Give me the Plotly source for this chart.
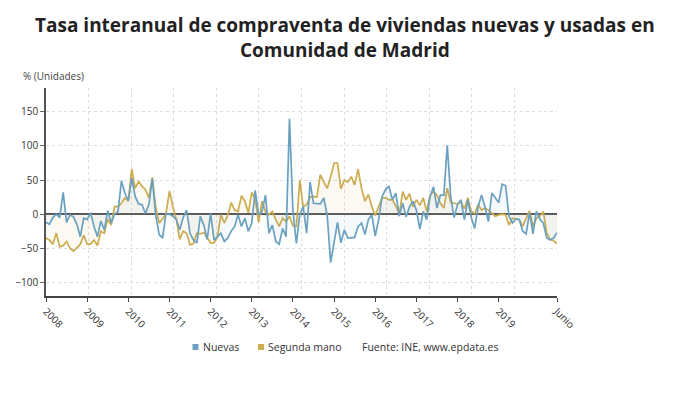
import plotly.graph_objects as go

months = list(range(150))  # Jan 2008 .. Jun 2020 (monthly index)

nuevas = [-12, -15, -5, 0, -5, 32, -12, -1, -4, -15,
          -33, -6, -8, 2, -18, -33, -10, -23, 5, -13,
          0, 4, 49, 31, 20, 53, 26, 15, 14, 1,
          14, 52, -2, -30, -35, 1, 0, -3, -8, -23,
          -5, 6, -28, -38, -42, -3, -16, -37, 1, -38,
          -33, -28, -40, -35, -25, -18, -1, -18, -6, -25,
          -13, 35, -1, 4, 28, -28, -16, -40, -44, -21,
          -33, 140, 5, -43, -1, 11, -28, 47, 16, 16,
          15, 24, -2, -71, -38, -12, -42, -23, -35, -35,
          -34, -18, -13, -30, -8, -1, -32, -8, 26, 36,
          41, 21, 31, -3, 16, -4, 11, 19, 6, -22,
          4, -8, 26, 40, 9, 28, 28, 101, 26, -5,
          14, 21, -8, 21, -5, -21, 11, 28, 11, -11,
          31, 24, 17, 44, 42, -3, -13, -7, -8, -25,
          -29, 2, -29, 4, -7, -13, -35, -38, -35, -27]

segunda = [-35, -38, -44, -28, -48, -46, -40, -50, -54, -49,
           -44, -31, -44, -44, -38, -46, -25, -28, -7, -16,
           11, 11, 16, 24, 19, 66, 38, 48, 41, 36,
           24, 54, 10, -13, -7, 1, 34, 11, -8, -37,
           -25, -28, -45, -43, -28, -29, -27, -35, -42, -42,
           -33, -1, -13, -2, 17, 6, 4, 27, 19, 2,
           32, 22, -12, 19, 4, -1, 4, -8, -18, -6,
           -11, -3, -17, -18, 50, 11, 14, 25, 26, 25,
           58, 47, 38, 55, 75, 75, 37, 50, 47, 55,
           43, 66, 38, 19, 29, 11, -2, 11, 24, 24,
           21, 21, 12, 0, 33, 21, 30, 11, 21, 13,
           24, 4, 28, 33, 28, 16, 9, 38, 17, 16,
           15, 18, 8, 24, 4, 1, 14, 6, 9, 6,
           2, -3, -1, 0, -1, -16, -6, -7, -8, -18,
           -6, 5, -18, -6, -3, 4, -28, -37, -39, -43]

year_labels = ['2008', '2009', '2010', '2011', '2012', '2013', '2014',
               '2015', '2016', '2017', '2018', '2019', 'Junio']
year_pos = [0, 12, 24, 36, 48, 60, 72, 84, 96, 108, 120, 132, 149]
grid_pos = [149 * k / 12 for k in range(13)]
y_ticks = [-100, -50, 0, 50, 100, 150]

BLUE = '#6aa0c0'
GOLD = '#cdab4f'

# page offset (browser body margin)
OFF = 8
W, H = 690 - OFF, 406 - OFF
L, T = 46 - OFF, 88 - OFF
PW, PH = 511, 208
R, B = W - L - PW, H - T - PH


def px(page_x):
    return (page_x - 46) / PW


def py(page_y):
    return (296 - page_y) / PH


fig = go.Figure()
fig.add_trace(go.Scatter(x=months, y=segunda, mode='lines', name='Segunda mano',
                         line=dict(color=GOLD, width=1.7), fill='tozeroy',
                         fillcolor='rgba(225,200,130,0.10)', showlegend=False))
fig.add_trace(go.Scatter(x=months, y=nuevas, mode='lines', name='Nuevas',
                         line=dict(color=BLUE, width=1.7), fill='tozeroy',
                         fillcolor='rgba(120,170,200,0.07)', showlegend=False))
fig.add_trace(go.Scatter(x=[0, 149], y=[None, None], xaxis='x2', showlegend=False,
                         hoverinfo='skip'))

fig.update_layout(
    width=W, height=H,
    margin=dict(l=L, r=R, t=T, b=B, autoexpand=False),
    paper_bgcolor='white', plot_bgcolor='white',
    font=dict(family='Open Sans, Noto Sans, sans-serif', color='#333'),
    xaxis=dict(range=[0, 149], tickvals=grid_pos, showticklabels=False,
               showgrid=True, gridcolor='#dcdae4', griddash='dot', gridwidth=1,
               zeroline=False, showline=False, ticks=''),
    xaxis2=dict(range=[0, 149], overlaying='x', side='bottom', anchor='y',
                tickvals=year_pos, ticktext=year_labels, tickangle=45,
                showgrid=False, zeroline=False, showline=True, linecolor='#444',
                linewidth=1.5, ticks='outside', ticklen=4, tickcolor='#444',
                tickfont=dict(size=10, color='#333')),
    yaxis=dict(range=[-120, 185], tickvals=y_ticks, showgrid=True,
               gridcolor='#dcdae4', griddash='dot', gridwidth=1,
               zeroline=True, zerolinecolor='#555', zerolinewidth=1.5,
               showline=True, linecolor='#555', linewidth=1.5,
               ticks='outside', ticklen=4, tickcolor='#666',
               tickfont=dict(size=10, color='#333')),
    showlegend=False,
)

fig.add_annotation(text='<b>Tasa interanual de compraventa de viviendas nuevas y usadas en<br>Comunidad de Madrid</b>',
                   xref='paper', yref='paper', x=px(345), y=py(37.5),
                   xanchor='center', yanchor='middle', showarrow=False,
                   font=dict(size=19, color='#222'))
fig.add_annotation(text='% (Unidades)', xref='paper', yref='paper', x=px(21), y=py(75.5),
                   xanchor='left', yanchor='middle', showarrow=False,
                   font=dict(size=10, color='#444'))

# legend / source line
leg_y = 347
for x0, col in [(192.5, BLUE), (258, GOLD)]:
    fig.add_shape(type='rect', xref='paper', yref='paper',
                  x0=px(x0), x1=px(x0 + 6), y0=py(leg_y - 3), y1=py(leg_y + 3),
                  fillcolor=col, line=dict(width=0))
for x0, txt in [(201, 'Nuevas'), (266, 'Segunda mano'), (360, 'Fuente: INE, www.epdata.es')]:
    fig.add_annotation(text=txt, xref='paper', yref='paper', x=px(x0), y=py(leg_y),
                       xanchor='left', yanchor='middle', showarrow=False,
                       font=dict(size=10.5, color='#333'))

fig.write_html('out.html')
